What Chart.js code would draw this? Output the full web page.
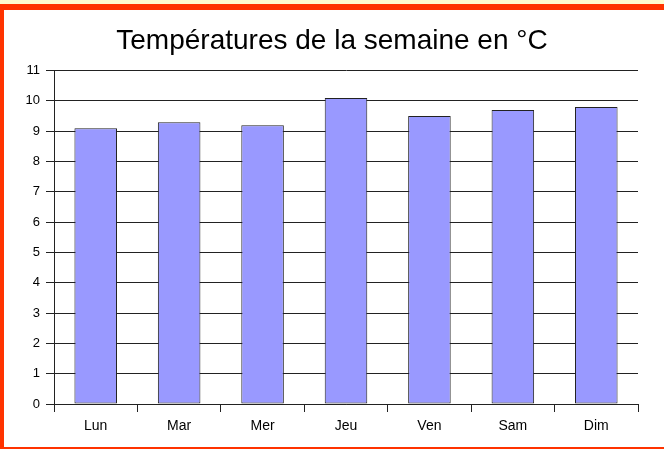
<!DOCTYPE html>
<html>
<head>
<meta charset="utf-8">
<script src="https://cdn.jsdelivr.net/npm/chart.js@4/dist/chart.umd.min.js"></script>
<style>
  html, body { margin: 0; padding: 0; }
  body { width: 664px; height: 449px; background: #fffbcf; position: relative; overflow: hidden; }
  #frame { position: absolute; left: 0; top: 4px; width: 664px; height: 445px; box-sizing: border-box;
           border-top: 6px solid #ff3300; border-left: 4px solid #ff3300; border-bottom: 2px solid #ff3300; background: #fff; }
  canvas { position: absolute; left: 0; top: 0; }
</style>
</head>
<body>
<div id="frame"></div>
<canvas id="c" width="664" height="449"></canvas>
<script>
const titleText = 'Températures de la semaine en °C';
const categories = ['Lun', 'Mar', 'Mer', 'Jeu', 'Ven', 'Sam', 'Dim'];
const temperatures = [9.1, 9.3, 9.2, 10.1, 9.5, 9.7, 9.8];
const yMin = 0, yMax = 11, yStep = 1;

const FONT = '"Liberation Sans", Arial, sans-serif';
const LINE = '#222';

new Chart(document.getElementById('c'), {
  type: 'bar',
  data: {
    labels: categories,
    datasets: [{
      data: temperatures,
      backgroundColor: '#9999ff',
      borderColor: '#222',
      borderWidth: 1,
      borderSkipped: false,
      categoryPercentage: 1,
      barPercentage: 0.51
    }]
  },
  options: {
    responsive: false,
    animation: false,
    layout: { padding: { left: 13, right: 13, top: 0, bottom: 0 } },
    plugins: {
      legend: { display: false },
      tooltip: { enabled: false },
      title: {
        display: true,
        text: titleText,
        color: '#000',
        font: { family: FONT, size: 28, weight: 'normal', lineHeight: 1.2 },
        padding: { top: 24, bottom: 13 }
      }
    },
    scales: {
      x: {
        grid: {
          offset: true,
          drawOnChartArea: false,
          drawTicks: true,
          tickLength: 8,
          color: (ctx) => ctx.index === categories.length ? 'rgba(0,0,0,0)' : LINE,
          lineWidth: 1
        },
        border: { display: true, color: LINE, width: 1 },
        ticks: { color: '#000', font: { family: FONT, size: 14 }, padding: 6, maxRotation: 0 },
        afterFit: (s) => { s.height = 45; }
      },
      y: {
        min: yMin, max: yMax,
        grid: { color: LINE, lineWidth: 1, tickLength: 8 },
        border: { display: true, color: LINE, width: 1 },
        ticks: { stepSize: yStep, color: '#000', font: { family: FONT, size: 13 }, padding: 6 },
        afterFit: (s) => { s.width = 41; }
      },
      y2: {
        position: 'right',
        display: true,
        grid: { display: false, drawTicks: false },
        border: { display: false },
        ticks: { display: false },
        afterFit: (s) => { s.width = 13; }
      }
    }
  }
});
</script>
</body>
</html>
